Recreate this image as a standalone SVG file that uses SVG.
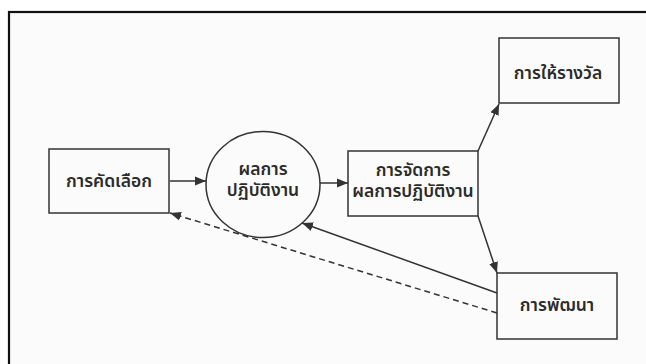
<svg xmlns="http://www.w3.org/2000/svg" width="646" height="364" viewBox="0 0 646 364">
  <style>
    .box { fill: none; stroke: #333; stroke-width: 1.5; }
    .lbl { font-family: "Noto Sans Thai", "Noto Sans Thai Looped", "Noto Sans", "DejaVu Sans", sans-serif; font-size: 17.5px; fill: #2b2b2b; text-anchor: middle; font-weight: 600; }
    .link { fill: none; stroke: #333; stroke-width: 1.5; }
    .dash { stroke-dasharray: 6 4; }
  </style>
  <defs>
    <marker id="arrow" markerUnits="userSpaceOnUse" markerWidth="12" markerHeight="10" refX="11" refY="5" orient="auto">
      <path d="M0,0.5 L11,5 L0,9.5 Z" fill="#333"/>
    </marker>
  </defs>

  <!-- page background and outer frame -->
  <rect x="0" y="0" width="646" height="364" fill="#ffffff"/>
  <rect x="9" y="12" width="645" height="360" fill="#fbfbfb" stroke="#111" stroke-width="2.2"/>

  <!-- connectors -->
  <g id="connectors">
    <line class="link" x1="170" y1="181" x2="206" y2="181" marker-end="url(#arrow)"/>
    <line class="link" x1="320" y1="183" x2="348" y2="183" marker-end="url(#arrow)"/>
    <line class="link" x1="478" y1="151" x2="499" y2="104" marker-end="url(#arrow)"/>
    <line class="link" x1="478" y1="216" x2="497" y2="273" marker-end="url(#arrow)"/>
    <line class="link" x1="497" y1="293" x2="302" y2="223" marker-end="url(#arrow)"/>
    <line class="link dash" x1="497" y1="313" x2="170" y2="213" marker-end="url(#arrow)"/>
  </g>

  <!-- nodes -->
  <g id="selection">
    <rect class="box" x="49" y="149" width="120" height="64"/>
    <text class="lbl" x="109" y="187">การคัดเลือก</text>
  </g>
  <g id="performance">
    <ellipse class="box" cx="263" cy="184.5" rx="57" ry="53"/>
    <text class="lbl" x="263" y="175">ผลการ</text>
    <text class="lbl" x="263" y="196">ปฏิบัติงาน</text>
  </g>
  <g id="performance-management">
    <rect class="box" x="348" y="151" width="130" height="65"/>
    <text class="lbl" x="413" y="176">การจัดการ</text>
    <text class="lbl" x="413" y="197">ผลการปฏิบัติงาน</text>
  </g>
  <g id="reward">
    <rect class="box" x="499" y="38" width="120" height="65"/>
    <text class="lbl" x="558" y="79">การให้รางวัล</text>
  </g>
  <g id="development">
    <rect class="box" x="497" y="273" width="120" height="66"/>
    <text class="lbl" x="557" y="311">การพัฒนา</text>
  </g>
</svg>
